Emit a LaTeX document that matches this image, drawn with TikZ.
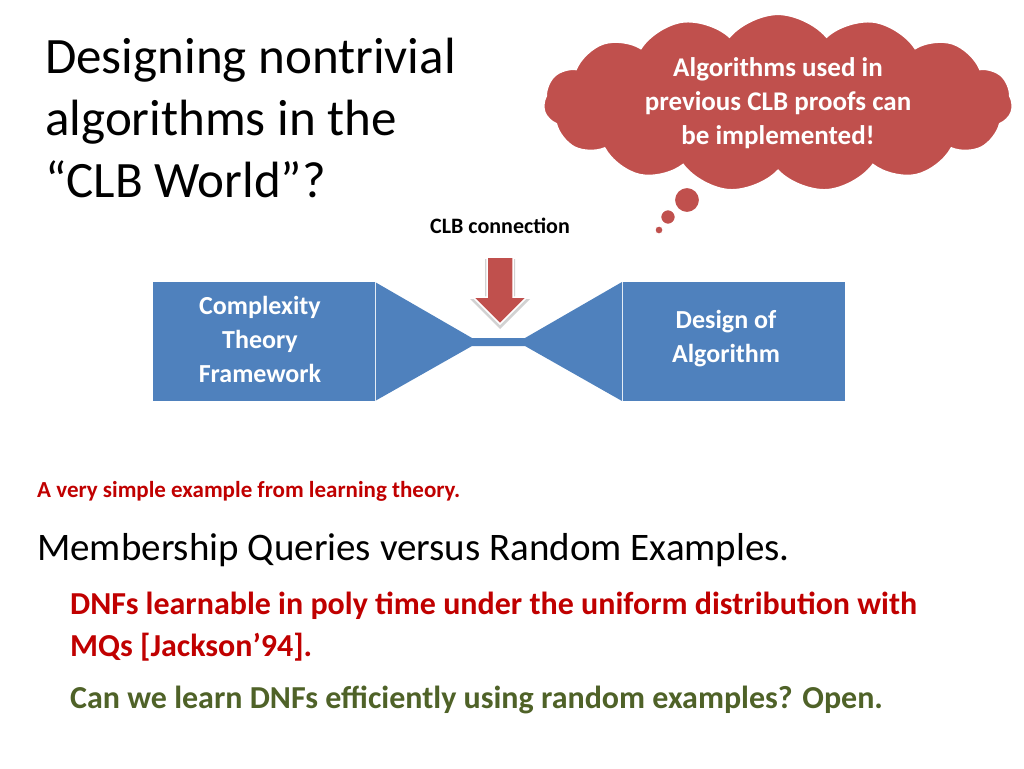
\documentclass[tikz,border=0pt]{standalone}
\usepackage{fontspec}
\setmainfont{Carlito}
\usetikzlibrary{shapes.symbols}
\definecolor{cred}{HTML}{C0504D}
\definecolor{cblue}{HTML}{4F81BD}
\definecolor{dred}{HTML}{C00000}
\definecolor{dgreen}{HTML}{4F6228}
\tikzset{
 txt/.style={inner sep=0, anchor=west, align=left},
 boxt/.style={text=white, font=\fontsize{26}{34}\selectfont\bfseries, align=center},
 bluefill/.style={fill=cblue, draw=none}
}
\begin{document}
\begin{tikzpicture}[x=1pt,y=-1pt]
\useasboundingbox (0,0) rectangle (1024,768);
% title
\node[txt, font=\fontsize{51}{62}\selectfont] (title) at (45,118) {Designing nontrivial\\algorithms in the\\“CLB World”?};
% cloud
\node[cloud, cloud puffs=15, cloud puff arc=100, aspect=3.2, fill=cred, draw=white, line width=2.5pt,
  minimum width=470pt, minimum height=165pt, text=white, font=\fontsize{27}{34}\selectfont\bfseries, align=center] (cloud) at (778,103) {Algorithms used in\\previous CLB proofs can\\be implemented!};
\node[circle, fill=cred, draw=white, line width=2pt, minimum size=26pt, inner sep=0] (b1) at (687,200) {};
\node[circle, fill=cred, draw=white, line width=1.5pt, minimum size=15pt, inner sep=0] (b2) at (668,217) {};
\node[circle, fill=cred, draw=white, line width=1pt, minimum size=8pt, inner sep=0] (b3) at (659,230) {};
% CLB connection
\node[font=\fontsize{22}{24}\selectfont\bfseries] (clb) at (500,226) {CLB connection};
% bowtie
\fill[bluefill] (153,282) rectangle (375,401);
\fill[bluefill] (375,282) -- (472,338) -- (525,338) -- (622,282) -- (622,401) -- (525,346) -- (472,346) -- (375,401) -- cycle;
\fill[bluefill] (622,282) rectangle (845,401);
\draw[white!85!cblue, line width=0.6pt] (375,282) -- (375,401) (622,282) -- (622,401);
\node[boxt] (left) at (260,339) {Complexity\\Theory\\Framework};
\node[boxt] (right) at (726,339) {Design of\\Algorithm};
% arrow
\fill[gray!35] (485,259) -- (515,259) -- (515,299) -- (530,299) -- (500,329) -- (470,299) -- (485,299) -- cycle;
\fill[cred, draw=white, line width=1.5pt] (487,257) -- (513,257) -- (513,297) -- (527,297) -- (500,324) -- (473,297) -- (487,297) -- cycle;
% bottom texts
\node[txt, text=dred, font=\fontsize{23}{24}\selectfont\bfseries] (ex) at (37,491) {A very simple example from learning theory.};
\node[txt, font=\fontsize{39}{38}\selectfont] (mq) at (37,550) {Membership Queries versus Random Examples.};
\node[txt, text=dred, font=\fontsize{32}{42}\selectfont\bfseries] (dnf) at (70,627) {DNFs learnable in poly time under the uniform distribution with\\MQs [Jackson’94].};
\node[txt, text=dgreen, font=\fontsize{32}{32}\selectfont\bfseries] (open) at (70,700) {Can we learn DNFs efficiently using random examples? Open.};
\end{tikzpicture}
\end{document}
